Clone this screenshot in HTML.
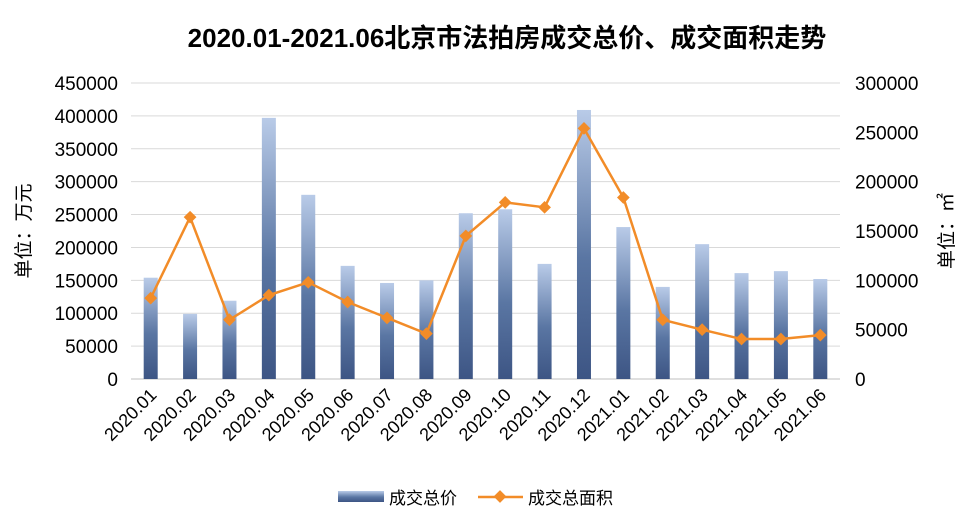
<!DOCTYPE html>
<html><head><meta charset="utf-8"><style>
html,body{margin:0;padding:0;background:#fff;}
svg{display:block;font-family:"Liberation Sans","Noto Sans CJK SC",sans-serif;}
</style></head><body>
<svg id="chart" width="974" height="520" viewBox="0 0 974 520">
<defs>
<linearGradient id="barGrad" x1="0" y1="0" x2="0" y2="1">
<stop offset="0" stop-color="#b9cbe8"/>
<stop offset="0.55" stop-color="#5a76a3"/>
<stop offset="1" stop-color="#3d5584"/>
</linearGradient>
</defs>
<text x="507" y="47" text-anchor="middle" font-size="26" font-weight="bold" fill="#000">2020.01-2021.06北京市法拍房成交总价、成交面积走势</text>
<g id="grid"></g><g id="bars"></g><g id="line"></g><g id="axes"></g>
<text transform="translate(30,231) rotate(-90)" text-anchor="middle" font-size="19" fill="#000">单位：万元</text>
<text transform="translate(953,231) rotate(-90)" text-anchor="middle" font-size="19" fill="#000">单位：㎡</text>
<g>
<rect x="338" y="491" width="46" height="11" fill="url(#barGrad)"/>
<text x="389" y="504" font-size="17" fill="#000">成交总价</text>
<line x1="478" y1="497" x2="523" y2="497" stroke="#f28c28" stroke-width="2.5"/>
<rect x="495.5" y="492" width="9" height="9" fill="#f28c28" transform="rotate(45 500 496.5)"/>
<text x="528" y="504" font-size="17" fill="#000">成交总面积</text>
</g>
</svg>
<script>
const categories=["2020.01","2020.02","2020.03","2020.04","2020.05","2020.06","2020.07","2020.08","2020.09","2020.10","2020.11","2020.12","2021.01","2021.02","2021.03","2021.04","2021.05","2021.06"];
const totalPrice=[154000,99000,119000,397000,280000,172000,146000,150000,252000,258000,175000,409000,231000,140000,205000,161000,164000,152000];
const totalArea=[82000,164000,60000,85000,98000,78000,62000,46000,145000,179000,174000,254000,184000,60000,50000,40500,40500,44500];
const leftTicks=[0,50000,100000,150000,200000,250000,300000,350000,400000,450000];
const rightTicks=[0,50000,100000,150000,200000,250000,300000];
const NS="http://www.w3.org/2000/svg";
const X0=131,X1=840,Y0=379,Y1=83;
const step=(X1-X0)/categories.length;
const xC=i=>X0+step*(i+0.5);
const yL=v=>Y0-(v/450000)*(Y0-Y1);
const yR=v=>Y0-(v/300000)*(Y0-Y1);
function mk(t,a,p){const e=document.createElementNS(NS,t);for(const k in a)e.setAttribute(k,a[k]);p.appendChild(e);return e;}
const grid=document.getElementById('grid'),axes=document.getElementById('axes'),bars=document.getElementById('bars'),line=document.getElementById('line');
leftTicks.forEach(v=>{
 const g=mk('line',{x1:X0,x2:X1,y1:yL(v),y2:yL(v),stroke:v===0?'#bfbfbf':'#d9d9d9','stroke-width':1},grid);
 
 
 const t=mk('text',{x:118,y:yL(v)+7,'text-anchor':'end','font-size':19,fill:'#000'},axes);
 t.textContent=v;
 
 
});
rightTicks.forEach(v=>{
 const t=mk('text',{x:855,y:yR(v)+7,'text-anchor':'start','font-size':19,fill:'#000'},axes);
 t.textContent=v;
 
 
});
categories.forEach((c,i)=>{
 const t=mk('text',{x:xC(i)+7,y:396,'text-anchor':'end','font-size':18,fill:'#000',transform:`rotate(-45 ${xC(i)+7} 396)`},axes);
 t.textContent=c;
 
 
});
totalPrice.forEach((v,i)=>{
 const r=mk('rect',{x:xC(i)-7,y:yL(v),width:14,height:Y0-yL(v),fill:'url(#barGrad)'},bars);
 
 
});
const pts=totalArea.map((v,i)=>xC(i)+','+yR(v)).join(' ');
const pl=mk('polyline',{points:pts,fill:'none',stroke:'#f28c28','stroke-width':2.5},line);


totalArea.forEach((v,i)=>{
 const x=xC(i),y=yR(v);
 const m=mk('rect',{x:x-4.5,y:y-4.5,width:9,height:9,fill:'#f28c28',transform:`rotate(45 ${x} ${y})`},line);
 
 
});
</script>
</body></html>
